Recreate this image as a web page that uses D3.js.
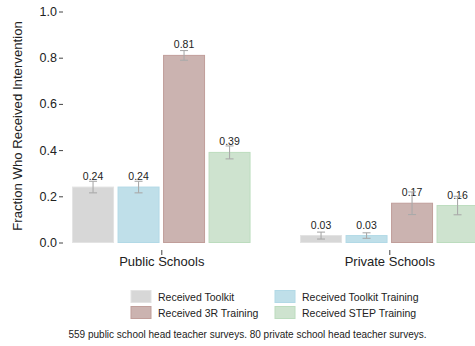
<!DOCTYPE html>
<html>
<head>
<meta charset="utf-8">
<script src="https://cdn.jsdelivr.net/npm/d3@7"></script>
<style>
  html, body { margin: 0; padding: 0; background: #fff; }
  svg { display: block; font-family: "Liberation Sans", Arial, Helvetica, sans-serif; }
</style>
</head>
<body>
<svg id="chart" width="475" height="346"></svg>
<script>
// School types along the x axis
const groups = ["Public Schools", "Private Schools"];
// Interventions, one bar each per school type
const series = ["Received Toolkit", "Received Toolkit Training", "Received 3R Training", "Received STEP Training"];
// Share of head teachers reporting each intervention
const publicValues  = [0.24, 0.24, 0.81, 0.39];
const privateValues = [0.03, 0.03, 0.17, 0.16];
// Half-widths of the confidence intervals
const publicErrors  = [0.025, 0.025, 0.021, 0.028];
const privateErrors = [0.015, 0.012, 0.049, 0.04];
const yTicks = [0.0, 0.2, 0.4, 0.6, 0.8, 1.0];
const fills   = ["#d7d7d7", "#bfdfe9", "#cbb3b0", "#cee3cf"];
const strokes = ["#e3e3e3", "#b2d9e6", "#c09e9a", "#bcdcbe"];
const note = "559 public school head teacher surveys. 80 private school head teacher surveys.";

const rows = [];
groups.forEach((g, gi) => {
  const vals = gi === 0 ? publicValues : privateValues;
  const errs = gi === 0 ? publicErrors : privateErrors;
  series.forEach((s, si) => rows.push({ group: g, series: s, si, value: vals[si], err: errs[si] }));
});

const svg = d3.select("#chart");

const y = d3.scaleLinear().domain([0, 1]).range([242.5, 11.5]);
const x = d3.scalePoint().domain(groups).range([161.3, 389.3]);
const xi = d3.scaleBand().domain(series).range([-89.25, 89.25]).paddingInner(0.077);

// y axis: ticks drawn as short dashes right of the labels
const yAxis = svg.append("g").attr("transform", "translate(63,0)")
  .call(d3.axisLeft(y).tickValues(yTicks).tickFormat(d3.format(".1f")).tickSize(4).tickPadding(2));
yAxis.select(".domain").remove();
yAxis.selectAll(".tick line").attr("stroke", "#444");
yAxis.selectAll(".tick text").attr("font-size", 12.5).attr("fill", "#222");

svg.append("text")
  .attr("transform", "translate(22,126) rotate(-90)")
  .attr("text-anchor", "middle")
  .attr("font-size", 13.2)
  .attr("fill", "#222")
  .text("Fraction Who Received Intervention");

// x axis
const xAxis = svg.append("g").attr("transform", "translate(0,250)")
  .call(d3.axisBottom(x).tickSize(5).tickPadding(1.5));
xAxis.select(".domain").remove();
xAxis.selectAll(".tick line").attr("stroke", "#444");
xAxis.selectAll(".tick text").attr("font-size", 13).attr("fill", "#222");

// bars
const bars = svg.append("g");
bars.selectAll("rect").data(rows).join("rect")
  .attr("x", d => x(d.group) + xi(d.series) + 0.5)
  .attr("y", d => y(d.value))
  .attr("width", xi.bandwidth() - 1)
  .attr("height", d => y(0) - y(d.value))
  .attr("fill", d => fills[d.si])
  .attr("stroke", d => strokes[d.si])
  .attr("stroke-width", 1);

// value labels
svg.append("g").selectAll("text").data(rows).join("text")
  .attr("x", d => x(d.group) + xi(d.series) + xi.bandwidth() / 2)
  .attr("y", d => y(d.value) - 7)
  .attr("text-anchor", "middle")
  .attr("font-size", 10.5)
  .attr("fill", "#222")
  .text(d => d3.format(".2f")(d.value));

// error bars
const eb = svg.append("g").attr("stroke", "#aaa").attr("stroke-width", 1.1).attr("fill", "none");
rows.forEach(d => {
  const cx = x(d.group) + xi(d.series) + xi.bandwidth() / 2;
  const y1 = y(d.value + d.err), y0 = y(d.value - d.err);
  eb.append("line").attr("x1", cx).attr("x2", cx).attr("y1", y1).attr("y2", y0);
  eb.append("line").attr("x1", cx - 4).attr("x2", cx + 4).attr("y1", y1).attr("y2", y1);
  eb.append("line").attr("x1", cx - 4).attr("x2", cx + 4).attr("y1", y0).attr("y2", y0);
});

// legend, two columns by two rows
const legend = svg.append("g");
const legendPos = [[131, 290.5], [275, 290.5], [131, 306.5], [275, 306.5]];
series.forEach((s, i) => {
  const [lx, ly] = legendPos[i];
  legend.append("rect").attr("x", lx).attr("y", ly).attr("width", 20).attr("height", 12)
    .attr("fill", fills[i]).attr("stroke", strokes[i]);
  legend.append("text").attr("x", lx + 27).attr("y", ly + 10)
    .attr("font-size", 10.5).attr("fill", "#222").text(s);
});

svg.append("text")
  .attr("x", 247.5).attr("y", 337.5)
  .attr("text-anchor", "middle")
  .attr("font-size", 10)
  .attr("fill", "#222")
  .text(note);
</script>
</body>
</html>
